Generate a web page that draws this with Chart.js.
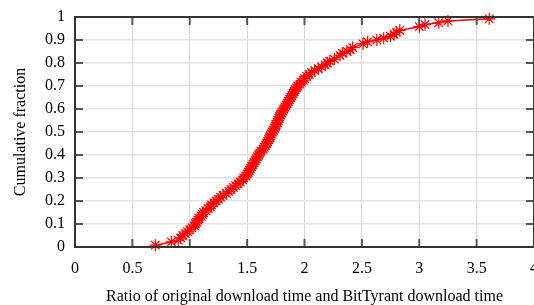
<!DOCTYPE html>
<html>
<head>
<meta charset="utf-8">
<script src="https://cdn.jsdelivr.net/npm/chart.js@4"></script>
<style>
  html, body { margin: 0; padding: 0; background: #fff; }
  #wrap { width: 534px; height: 305px; }
</style>
</head>
<body>
<div id="wrap"><canvas id="cdf"></canvas></div>
<script>
// download time ratio (x) and cumulative fraction (y)
const ratio = [
    0.70, 0.84, 0.90, 0.92, 0.94, 0.96, 0.98, 1.00, 1.02, 1.04,
    1.05, 1.06, 1.07, 1.08, 1.10, 1.11, 1.12, 1.14, 1.16, 1.18,
    1.19, 1.21, 1.23, 1.25, 1.27, 1.29, 1.32, 1.34, 1.36, 1.38,
    1.40, 1.42, 1.44, 1.46, 1.47, 1.49, 1.50, 1.51, 1.52, 1.53,
    1.54, 1.55, 1.56, 1.57, 1.58, 1.59, 1.60, 1.61, 1.62, 1.64,
    1.65, 1.66, 1.67, 1.68, 1.69, 1.70, 1.70, 1.71, 1.72, 1.73,
    1.74, 1.75, 1.75, 1.76, 1.77, 1.78, 1.78, 1.79, 1.80, 1.81,
    1.82, 1.83, 1.84, 1.85, 1.86, 1.87, 1.88, 1.89, 1.90, 1.91,
    1.92, 1.93, 1.94, 1.96, 1.97, 1.99, 2.00, 2.02, 2.04, 2.06,
    2.09, 2.12, 2.15, 2.18, 2.20, 2.22, 2.26, 2.31, 2.33, 2.37,
    2.40, 2.42, 2.51, 2.55, 2.63, 2.69, 2.75, 2.78, 2.80, 2.83,
    3.00, 3.05, 3.17, 3.25, 3.61
];
const fraction = [
    0.008, 0.022, 0.030, 0.040, 0.050, 0.058, 0.067, 0.075, 0.083, 0.092,
    0.100, 0.108, 0.117, 0.125, 0.133, 0.142, 0.150, 0.158, 0.167, 0.175,
    0.183, 0.192, 0.200, 0.208, 0.217, 0.225, 0.233, 0.242, 0.250, 0.258,
    0.267, 0.275, 0.283, 0.292, 0.300, 0.308, 0.317, 0.325, 0.333, 0.342,
    0.350, 0.358, 0.367, 0.375, 0.383, 0.392, 0.400, 0.408, 0.417, 0.425,
    0.433, 0.442, 0.450, 0.458, 0.467, 0.475, 0.483, 0.492, 0.500, 0.508,
    0.517, 0.525, 0.533, 0.542, 0.550, 0.558, 0.567, 0.575, 0.583, 0.592,
    0.600, 0.608, 0.617, 0.625, 0.633, 0.642, 0.650, 0.658, 0.667, 0.675,
    0.683, 0.692, 0.700, 0.708, 0.717, 0.725, 0.733, 0.742, 0.750, 0.758,
    0.767, 0.775, 0.783, 0.792, 0.800, 0.808, 0.817, 0.833, 0.842, 0.850,
    0.858, 0.867, 0.883, 0.892, 0.900, 0.908, 0.917, 0.925, 0.933, 0.942,
    0.958, 0.967, 0.975, 0.983, 0.992
];

const xTicks = [0, 0.5, 1, 1.5, 2, 2.5, 3, 3.5, 4];
const yTicks = [0, 0.1, 0.2, 0.3, 0.4, 0.5, 0.6, 0.7, 0.8, 0.9, 1];

const serif = "'Liberation Serif', 'Times New Roman', serif";

// gnuplot style box round the plot with inward tick marks
const framePlugin = {
    id: "frame",
    afterDraw(chart) {
        let ctx = chart.ctx;
        let a = chart.chartArea;
        let xs = chart.scales.x;
        let ys = chart.scales.y;
        ctx.save();
        ctx.strokeStyle = "#555";
        ctx.lineWidth = 2;
        ctx.beginPath();
        xTicks.forEach(v => {
            let px = xs.getPixelForValue(v);
            ctx.moveTo(px, a.bottom);
            ctx.lineTo(px, a.bottom - 8);
            ctx.moveTo(px, a.top);
            ctx.lineTo(px, a.top + 8);
        });
        yTicks.forEach(v => {
            let py = ys.getPixelForValue(v);
            ctx.moveTo(a.left, py);
            ctx.lineTo(a.left + 8, py);
            ctx.moveTo(a.right, py);
            ctx.lineTo(a.right - 8, py);
        });
        ctx.stroke();
        ctx.strokeStyle = "#333";
        ctx.lineWidth = 2;
        ctx.strokeRect(a.left, a.top, a.right - a.left, a.bottom - a.top);
        ctx.restore();
    }
};

new Chart(document.getElementById("cdf"), {
    type: "line",
    data: {
        datasets: [{
            data: ratio.map((r, i) => ({ x: r, y: fraction[i] })),
            borderColor: "#ff0000",
            backgroundColor: "#ff0000",
            borderWidth: 1.5,
            pointStyle: "star",
            pointRadius: 6,
            pointBorderWidth: 1.2,
            pointBorderColor: "#ff0000",
            fill: false,
            tension: 0,
            clip: false
        }]
    },
    options: {
        responsive: true,
        maintainAspectRatio: false,
        animation: false,
        layout: { autoPadding: false, padding: { top: 17, right: 0, left: 0, bottom: 0 } },
        plugins: { legend: { display: false }, tooltip: { enabled: false } },
        scales: {
            x: {
                type: "linear",
                min: 0,
                max: 4,
                afterBuildTicks: s => { s.ticks = xTicks.map(v => ({ value: v })); },
                afterFit: s => { s.height = 58; s.paddingLeft = 0; s.paddingRight = 0; },
                grid: { color: "#d6d6d6", lineWidth: 1, drawTicks: false },
                border: { display: false },
                ticks: {
                    color: "#000",
                    padding: 12,
                    maxRotation: 0,
                    font: { family: serif, size: 16 },
                    callback: v => String(v)
                },
                title: {
                    display: true,
                    text: "Ratio of original download time and BitTyrant download time",
                    color: "#000",
                    font: { family: serif, size: 16, lineHeight: 1 },
                    padding: { top: 0, bottom: 0 }
                }
            },
            y: {
                type: "linear",
                min: 0,
                max: 1,
                afterBuildTicks: s => { s.ticks = yTicks.map(v => ({ value: v })); },
                afterFit: s => { s.width = 75; s.paddingTop = 0; s.paddingBottom = 0; },
                grid: { color: "#e3e3e3", lineWidth: 1.5, drawTicks: false },
                border: { display: false },
                ticks: {
                    color: "#000",
                    padding: 10,
                    font: { family: serif, size: 16 },
                    callback: v => String(v)
                },
                title: {
                    display: true,
                    text: "Cumulative fraction",
                    color: "#000",
                    font: { family: serif, size: 16 },
                    padding: { top: 11, bottom: 0 }
                }
            }
        }
    },
    plugins: [framePlugin]
});
</script>
</body>
</html>
